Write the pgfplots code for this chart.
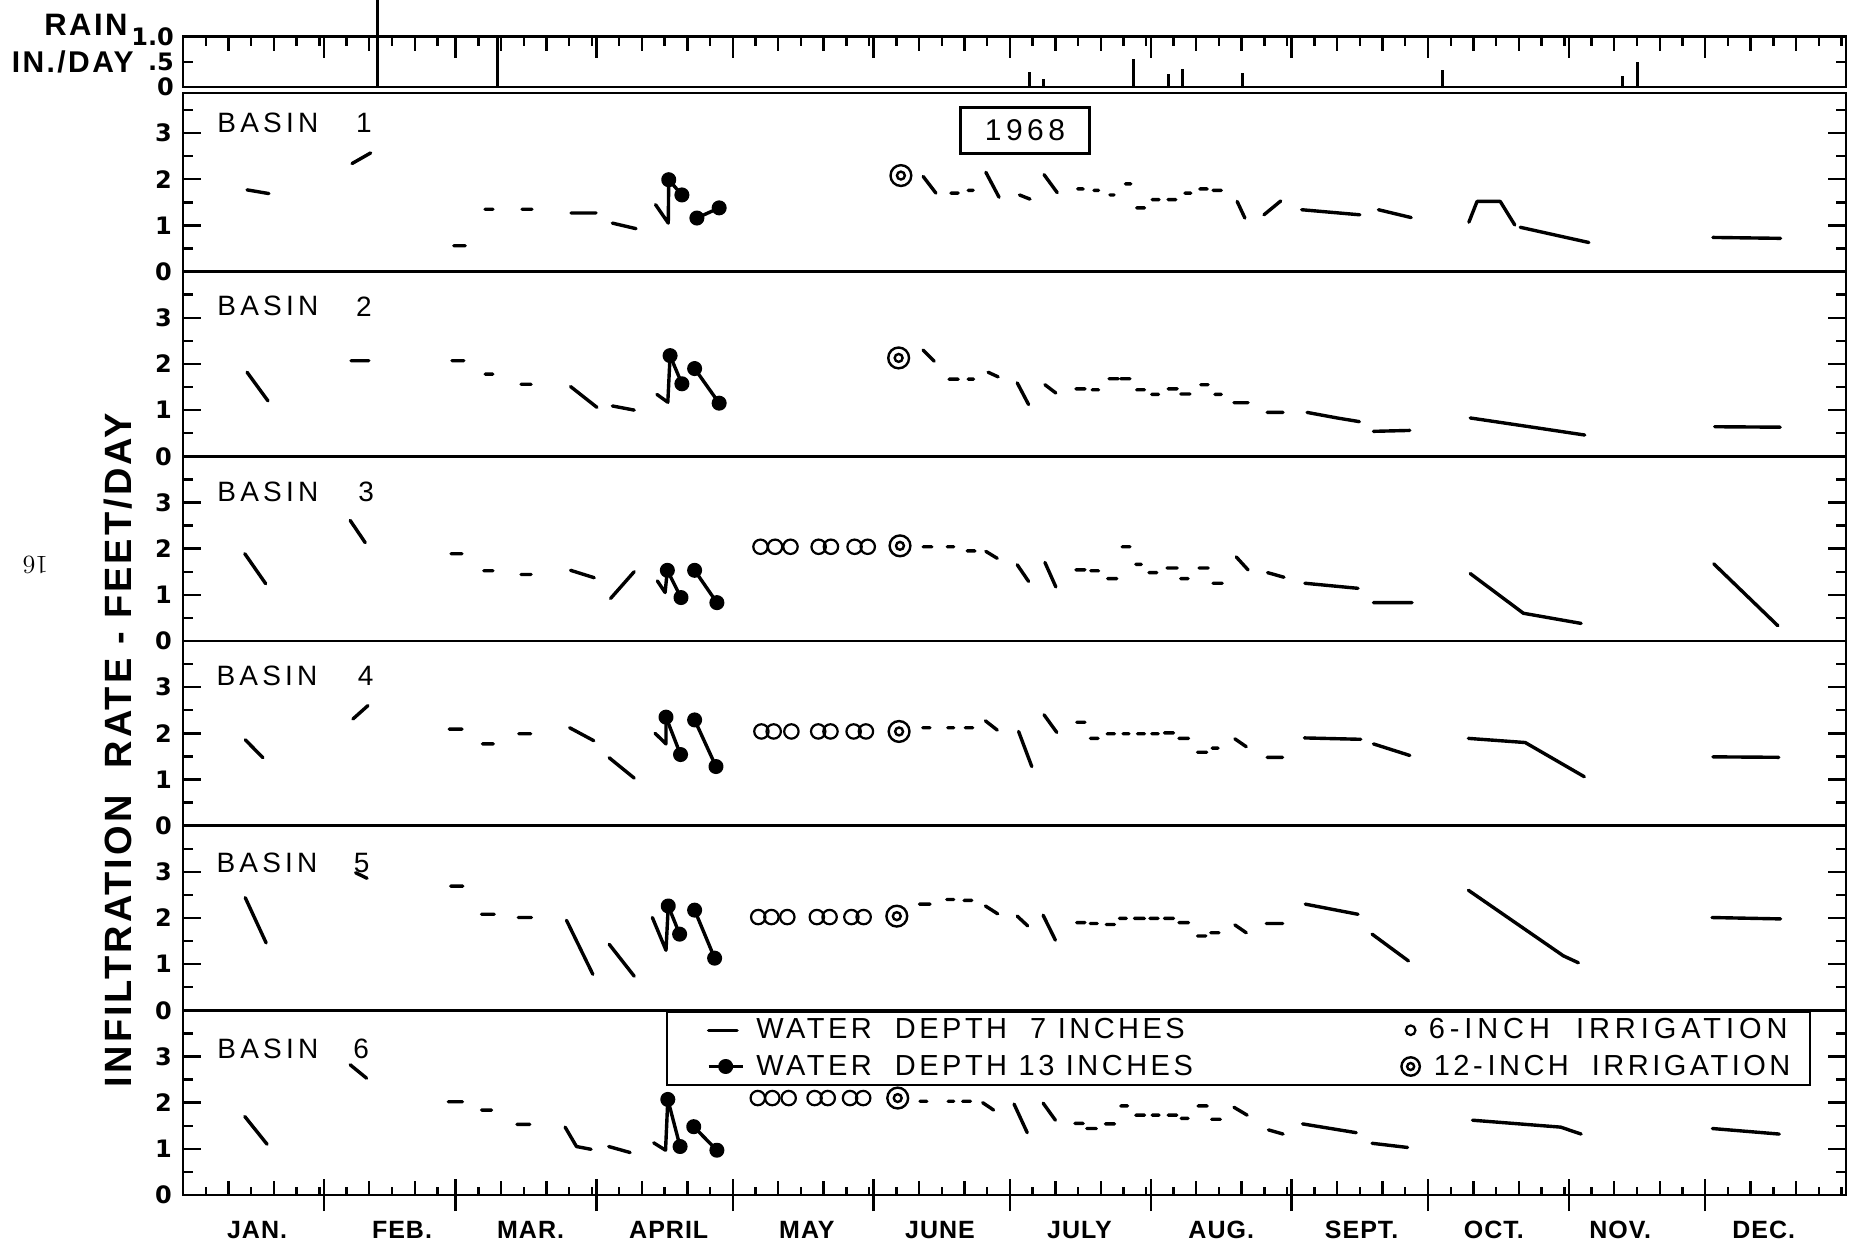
\documentclass[border=0pt]{standalone}
\usepackage{fontspec}
\usepackage{pgfplots}
\pgfplotsset{compat=1.18}
\newfontfamily\labA[LetterSpace=15]{Liberation Sans}
\newfontfamily\labL[LetterSpace=12]{Liberation Sans}
\newfontfamily\labC[LetterSpace=17]{Liberation Sans}
\newfontfamily\labB[LetterSpace=8]{Liberation Sans}
\newfontfamily\labM[LetterSpace=4]{Liberation Sans}
\newfontfamily\labD{DejaVu Sans}

\pgfdeclareplotmark{bullseye}{%
  \pgfpathcircle{\pgfpointorigin}{\pgfplotmarksize}%
  \pgfusepathqstroke
  \pgfpathcircle{\pgfpointorigin}{0.38\pgfplotmarksize}%
  \pgfusepathqstroke}

\tikzset{
  blab/.style={font=\labA\fontsize{14}{14}\selectfont, anchor=west, inner sep=0pt},
  bnum/.style={font=\labA\fontsize{14}{14}\selectfont, inner sep=0pt},
  mon/.style={font=\labM\bfseries\fontsize{12.5}{12.5}\selectfont, yshift=-17.5pt},
}
\pgfplotsset{
  panel/.style={
    scale only axis, width=831.5pt, height=92.34pt,
    xmin=0, xmax=366, ymin=0, ymax=4,
    anchor=south west, clip=false,
    axis line style={line width=1.3pt},
    tick style={black, line width=1.2pt},
    tick align=inside,
    xtick=\empty,
    ytick={0,1,2,3}, yticklabels={0,1,2,3},
    minor ytick={0.5,1.5,2.5,3.5},
    ytick pos=both, yticklabel pos=left,
    major tick length=9pt, minor tick length=5pt,
    /pgf/number format/assume math mode=true,
    yticklabel style={font=\labD\bfseries\fontsize{12}{12}\selectfont, xshift=-2pt},
    unbounded coords=jump,
  },
  tickover/.style={
    scale only axis, width=831.5pt, xmin=0, xmax=366, ymin=0, ymax=1,
    anchor=south west, axis line style={draw=none}, ytick=\empty,
    xticklabels={}, tick style={black, line width=1.2pt},
  },
  shortleg/.style={legend image code/.code={\draw[##1] (0cm,0cm) -- (0.5cm,0cm);}},
  w7/.style={black, line width=1.7pt, no markers, line cap=round, line join=round},
  wV/.style={black, line width=1.7pt, no markers, line cap=round, line join=round, forget plot},
  w13/.style={black, line width=1.7pt, mark=*, mark size=2.9pt, line join=round},
  i6/.style={black, only marks, mark=o, mark size=3.6pt, line width=1.1pt},
  i12/.style={black, only marks, mark=bullseye, mark size=5.2pt, line width=1.2pt},
}

\begin{document}
\begin{tikzpicture}
\useasboundingbox (-91.5pt,-27.5pt) rectangle (834.5pt,597.5pt);

% ---------------- RAIN ----------------
\begin{axis}[scale only axis, width=831.5pt, height=25.15pt, at={(0pt,554pt)}, anchor=south west,
  xmin=0, xmax=366, ymin=0, ymax=1, clip=false,
  axis line style={line width=1.3pt}, tick style={black, line width=1.2pt}, tick align=inside,
  xtick=\empty,
  ytick={0,0.5,1}, yticklabels={0,.5,1.0}, ytick pos=both, yticklabel pos=left,
  major tick length=5pt,
  yticklabel style={font=\labD\bfseries\fontsize{12}{12}\selectfont, xshift=-1pt}]
\addplot[ycomb, black, line width=1.5pt, no markers] coordinates {
 (42.7,1.73) (69.3,1.0) (186.3,0.29) (189.3,0.16) (209.1,0.56) (217.0,0.26)
 (220.0,0.36) (233.2,0.27) (277.2,0.34) (316.9,0.22) (320.0,0.49)};
\end{axis}
\begin{axis}[tickover, height=25.15pt, at={(0pt,554pt)}, xtick pos=right, tick align=inside,
  major tick length=10.5pt,
  xtick={31,60,91,121,152,182,213,244,274,305,335}]
\addplot[draw=none] coordinates {(0,0)};
\end{axis}
\begin{axis}[tickover, height=25.15pt, at={(0pt,554pt)}, xtick pos=right, tick align=inside,
  major tick length=7pt, minor tick length=4.5pt,
  xtick={10,20,41,51,70,80,101,111,131,141,162,172,192,202,223,233,254,264,284,294,315,325,345,355},
  minor xtick={5,15,25,30,36,46,56,65,75,85,90,96,106,116,126,136,146,151,157,167,177,187,197,207,212,218,228,238,243,249,259,269,279,289,299,304,310,320,330,340,350,360,365}]
\addplot[draw=none] coordinates {(0,0)};
\end{axis}

% ---------------- BASIN 1 ----------------
\begin{axis}[panel, at={(0pt,461.7pt)}, ymax=3.866, height=89.25pt]
\addplot[w7] coordinates {
 (14.1,1.77)(18.9,1.69) (0,nan)
 (37.2,2.34)(41.3,2.57) (0,nan)
 (59.6,0.56)(62.1,0.56) (0,nan)
 (66.5,1.35)(68.2,1.35) (0,nan)
 (74.6,1.35)(76.8,1.35) (0,nan)
 (85.4,1.27)(90.9,1.27) (0,nan)
 (94.5,1.05)(99.7,0.93) (0,nan)
 (162.9,2.06)(165.7,1.70) (0,nan)
 (169.0,1.70)(170.6,1.70) (0,nan)
 (172.8,1.76)(173.9,1.76) (0,nan)
 (176.7,2.15)(179.6,1.61) (0,nan)
 (184.1,1.66)(186.4,1.57) (0,nan)
 (189.5,2.10)(192.4,1.71) (0,nan)
 (196.9,1.79)(198.1,1.79) (0,nan)
 (200.5,1.76)(201.5,1.76) (0,nan)
 (204.0,1.66)(204.9,1.66) (0,nan)
 (207.4,1.90)(208.6,1.90) (0,nan)
 (209.9,1.38)(211.6,1.38) (0,nan)
 (213.3,1.56)(214.8,1.56) (0,nan)
 (216.8,1.56)(218.5,1.56) (0,nan)
 (220.5,1.70)(221.8,1.70) (0,nan)
 (223.8,1.79)(225.4,1.79) (0,nan)
 (226.7,1.76)(228.5,1.76) (0,nan)
 (232.0,1.52)(233.7,1.16) (0,nan)
 (237.9,1.23)(241.6,1.53) (0,nan)
 (246.2,1.34)(259.0,1.23) (0,nan)
 (263.1,1.34)(270.3,1.17) (0,nan)
 (283.0,1.07)(284.8,1.52)(289.9,1.52)(293.1,1.01) (0,nan)
 (294.3,0.96)(309.4,0.63) (0,nan)
 (336.7,0.74)(351.6,0.72)};
\addplot[wV] coordinates {(104.0,1.45)(106.8,1.05)(106.9,1.99)};
\addplot[w13] coordinates {(106.9,1.99)(109.8,1.66) (0,nan) (113.1,1.16)(118.0,1.38)};
\addplot[i12] coordinates {(158.0,2.08)};
\node[blab] at (axis cs:7.5,3.23) {BASIN};
\node[bnum] at (axis cs:39.8,3.23) {1};
\node[draw, line width=1.4pt, minimum width=64.7pt, minimum height=23pt, inner sep=0pt,
  font=\labA\fontsize{15}{15}\selectfont] at (axis cs:185.3,3.06) {1968};
\end{axis}

% ---------------- BASIN 2 ----------------
\begin{axis}[panel, at={(0pt,369.36pt)}]
\addplot[w7] coordinates {
 (14.1,1.82)(18.7,1.20) (0,nan)
 (37.0,2.07)(40.9,2.07) (0,nan)
 (59.2,2.07)(61.8,2.07) (0,nan)
 (66.5,1.78)(68.2,1.78) (0,nan)
 (74.4,1.56)(76.6,1.56) (0,nan)
 (85.3,1.51)(91.1,1.06) (0,nan)
 (94.5,1.09)(99.3,1.00) (0,nan)
 (162.9,2.30)(165.3,2.06) (0,nan)
 (168.6,1.67)(170.6,1.67) (0,nan)
 (172.8,1.67)(174.0,1.67) (0,nan)
 (177.2,1.82)(179.4,1.72) (0,nan)
 (183.6,1.59)(186.1,1.12) (0,nan)
 (189.7,1.55)(192.1,1.37) (0,nan)
 (196.5,1.46)(198.5,1.46) (0,nan)
 (200.1,1.44)(201.5,1.44) (0,nan)
 (203.8,1.68)(205.8,1.68) (0,nan)
 (206.4,1.68)(208.4,1.68) (0,nan)
 (209.9,1.44)(211.6,1.44) (0,nan)
 (213.2,1.34)(214.7,1.34) (0,nan)
 (216.8,1.46)(218.8,1.46) (0,nan)
 (219.6,1.35)(221.6,1.35) (0,nan)
 (224.0,1.55)(225.6,1.55) (0,nan)
 (227.1,1.34)(228.5,1.34) (0,nan)
 (231.3,1.16)(234.4,1.16) (0,nan)
 (238.6,0.95)(242.1,0.95) (0,nan)
 (247.4,0.95)(254.0,0.83)(258.9,0.75) (0,nan)
 (262.0,0.54)(270.0,0.56) (0,nan)
 (283.3,0.83)(297.0,0.63)(308.5,0.46) (0,nan)
 (337.1,0.64)(351.5,0.63)};
\addplot[wV] coordinates {(104.3,1.34)(106.7,1.17)(107.2,2.18)};
\addplot[w13] coordinates {(107.2,2.18)(109.8,1.57) (0,nan) (112.6,1.90)(118.0,1.15)};
\addplot[i12] coordinates {(157.5,2.13)};
\node[blab] at (axis cs:7.5,3.25) {BASIN};
\node[bnum] at (axis cs:39.8,3.25) {2};
\end{axis}

% ---------------- BASIN 3 ----------------
\begin{axis}[panel, at={(0pt,277.02pt)}]
\addplot[w7] coordinates {
 (13.6,1.89)(18.2,1.24) (0,nan)
 (36.8,2.61)(40.1,2.13) (0,nan)
 (59.0,1.89)(61.4,1.89) (0,nan)
 (66.2,1.52)(68.2,1.52) (0,nan)
 (74.4,1.44)(76.6,1.44) (0,nan)
 (85.3,1.53)(90.5,1.37) (0,nan)
 (94.1,0.92)(99.3,1.50) (0,nan)
 (162.9,2.04)(164.8,2.04) (0,nan)
 (168.2,2.04)(169.6,2.04) (0,nan)
 (172.6,1.95)(174.3,1.95) (0,nan)
 (176.7,1.94)(179.2,1.79) (0,nan)
 (183.6,1.65)(186.1,1.29) (0,nan)
 (189.7,1.70)(192.1,1.17) (0,nan)
 (196.5,1.54)(198.5,1.54) (0,nan)
 (199.8,1.52)(201.5,1.52) (0,nan)
 (203.5,1.35)(205.5,1.35) (0,nan)
 (206.7,2.04)(208.4,2.04) (0,nan)
 (209.7,1.66)(210.9,1.66) (0,nan)
 (212.6,1.48)(214.3,1.48) (0,nan)
 (216.6,1.58)(218.8,1.58) (0,nan)
 (219.6,1.35)(221.2,1.35) (0,nan)
 (223.6,1.58)(225.6,1.58) (0,nan)
 (226.7,1.25)(228.7,1.25) (0,nan)
 (231.8,1.82)(234.4,1.54) (0,nan)
 (238.7,1.48)(242.3,1.38) (0,nan)
 (246.9,1.25)(258.6,1.14) (0,nan)
 (262.0,0.83)(270.5,0.83) (0,nan)
 (283.3,1.46)(295.0,0.60)(307.7,0.38) (0,nan)
 (336.9,1.67)(351.0,0.33)};
\addplot[wV] coordinates {(104.4,1.30)(106.1,1.05)(106.6,1.53)};
\addplot[w13] coordinates {(106.6,1.53)(109.6,0.94) (0,nan) (112.6,1.53)(117.5,0.83)};
\addplot[i6] coordinates {(127.1,2.04)(130.3,2.04)(133.7,2.04)(139.9,2.04)(142.6,2.04)(147.8,2.04)(150.7,2.04)};
\addplot[i12] coordinates {(157.8,2.06)};
\node[blab] at (axis cs:7.5,3.23) {BASIN};
\node[bnum] at (axis cs:40.3,3.23) {3};
\end{axis}

% ---------------- BASIN 4 ----------------
\begin{axis}[panel, at={(0pt,184.68pt)}]
\addplot[w7] coordinates {
 (13.7,1.86)(17.6,1.47) (0,nan)
 (37.4,2.31)(40.7,2.60) (0,nan)
 (58.6,2.09)(61.4,2.09) (0,nan)
 (65.9,1.77)(68.3,1.77) (0,nan)
 (73.9,1.99)(76.5,1.99) (0,nan)
 (85.1,2.12)(90.4,1.84) (0,nan)
 (93.8,1.47)(99.3,1.03) (0,nan)
 (162.8,2.12)(164.4,2.12) (0,nan)
 (168.3,2.12)(169.6,2.12) (0,nan)
 (172.2,2.12)(173.8,2.12) (0,nan)
 (176.6,2.27)(179.2,2.07) (0,nan)
 (183.9,2.04)(186.8,1.28) (0,nan)
 (189.5,2.40)(192.3,2.02) (0,nan)
 (196.7,2.24)(198.5,2.24) (0,nan)
 (199.7,1.89)(201.4,1.89) (0,nan)
 (203.4,1.99)(205.0,1.99) (0,nan)
 (206.9,1.99)(208.2,1.99) (0,nan)
 (210.1,1.99)(211.6,1.99) (0,nan)
 (213.2,1.99)(214.6,1.99) (0,nan)
 (216.0,2.01)(218.0,2.01) (0,nan)
 (219.2,1.89)(221.3,1.89) (0,nan)
 (223.3,1.59)(225.3,1.59) (0,nan)
 (226.5,1.68)(227.8,1.68) (0,nan)
 (231.5,1.88)(234.0,1.71) (0,nan)
 (238.6,1.48)(242.0,1.48) (0,nan)
 (246.8,1.90)(259.2,1.87) (0,nan)
 (262.0,1.77)(270.0,1.52) (0,nan)
 (282.9,1.89)(295.4,1.80)(308.4,1.06) (0,nan)
 (336.7,1.49)(351.2,1.48)};
\addplot[wV] coordinates {(103.9,2.00)(106.3,1.77)(106.3,2.35)};
\addplot[w13] coordinates {(106.3,2.35)(109.5,1.54) (0,nan) (112.6,2.29)(117.3,1.28)};
\addplot[i6] coordinates {(127.3,2.04)(130.0,2.04)(133.9,2.04)(139.8,2.04)(142.5,2.04)(147.6,2.04)(150.3,2.04)};
\addplot[i12] coordinates {(157.6,2.04)};
\node[blab] at (axis cs:7.3,3.25) {BASIN};
\node[bnum] at (axis cs:40.2,3.25) {4};
\end{axis}

% ---------------- BASIN 5 ----------------
\begin{axis}[panel, at={(0pt,92.34pt)}]
\addplot[w7] coordinates {
 (13.7,2.44)(18.3,1.46) (0,nan)
 (38.0,2.98)(40.5,2.86) (0,nan)
 (58.9,2.69)(61.6,2.69) (0,nan)
 (65.7,2.08)(68.5,2.08) (0,nan)
 (73.8,2.01)(76.7,2.01) (0,nan)
 (84.4,1.95)(90.2,0.78) (0,nan)
 (93.8,1.43)(99.3,0.74) (0,nan)
 (162.1,2.30)(164.4,2.30) (0,nan)
 (168.1,2.40)(169.6,2.40) (0,nan)
 (171.9,2.38)(173.6,2.38) (0,nan)
 (176.6,2.26)(179.3,2.09) (0,nan)
 (183.6,2.04)(185.9,1.83) (0,nan)
 (189.3,2.06)(192.0,1.52) (0,nan)
 (196.7,1.90)(198.5,1.90) (0,nan)
 (199.7,1.88)(201.2,1.88) (0,nan)
 (203.2,1.86)(205.0,1.86) (0,nan)
 (206.1,1.99)(207.6,1.99) (0,nan)
 (209.4,1.99)(211.6,1.99) (0,nan)
 (212.8,1.99)(214.6,1.99) (0,nan)
 (216.0,1.99)(218.0,1.99) (0,nan)
 (219.2,1.90)(221.3,1.90) (0,nan)
 (223.3,1.61)(225.1,1.61) (0,nan)
 (226.2,1.68)(228.0,1.68) (0,nan)
 (231.5,1.85)(234.0,1.68) (0,nan)
 (238.4,1.88)(242.0,1.88) (0,nan)
 (247.0,2.30)(258.6,2.08) (0,nan)
 (261.7,1.65)(269.7,1.07) (0,nan)
 (282.9,2.60)(303.8,1.18)(307.1,1.03) (0,nan)
 (336.5,2.01)(351.6,1.98)};
\addplot[wV] coordinates {(103.3,2.01)(106.3,1.30)(106.8,2.26)};
\addplot[w13] coordinates {(106.8,2.26)(109.3,1.65) (0,nan) (112.6,2.17)(117.0,1.13)};
\addplot[i6] coordinates {(126.6,2.02)(129.5,2.02)(133.0,2.02)(139.5,2.02)(142.3,2.02)(147.1,2.02)(149.8,2.02)};
\addplot[i12] coordinates {(157.1,2.04)};
\node[blab] at (axis cs:7.3,3.2) {BASIN};
\node[bnum] at (axis cs:39.3,3.2) {5};
\end{axis}

% ---------------- BASIN 6 ----------------
\begin{axis}[panel, at={(0pt,0pt)},
  legend columns=2, transpose legend,
  legend style={at={(rel axis cs:0.2902,1)}, anchor=north west, draw=black, line width=1.3pt, fill=white,
    font=\labL\fontsize{14.5}{15}\selectfont, inner xsep=20pt, inner ysep=1.5pt, row sep=2.5pt,
    cells={anchor=west}}]
\addplot[w7, shortleg] coordinates {
 (13.6,1.70)(18.5,1.10) (0,nan)
 (36.8,2.82)(40.4,2.53) (0,nan)
 (58.4,2.02)(61.5,2.02) (0,nan)
 (65.7,1.84)(67.9,1.84) (0,nan)
 (73.5,1.53)(76.3,1.53) (0,nan)
 (84.1,1.47)(86.6,1.05)(89.8,0.99) (0,nan)
 (93.7,1.05)(98.4,0.92) (0,nan)
 (162.2,2.03)(163.7,2.03) (0,nan)
 (168.4,2.03)(169.6,2.03) (0,nan)
 (171.6,2.03)(173.3,2.03) (0,nan)
 (176.0,2.00)(178.4,1.84) (0,nan)
 (182.9,1.97)(185.8,1.35) (0,nan)
 (189.3,1.99)(192.0,1.62) (0,nan)
 (196.3,1.55)(198.1,1.55) (0,nan)
 (198.9,1.44)(201.0,1.44) (0,nan)
 (203.0,1.54)(205.0,1.54) (0,nan)
 (206.4,1.93)(207.9,1.93) (0,nan)
 (209.7,1.73)(211.6,1.73) (0,nan)
 (213.3,1.73)(214.8,1.73) (0,nan)
 (216.8,1.73)(218.7,1.73) (0,nan)
 (219.7,1.66)(221.2,1.66) (0,nan)
 (223.4,1.93)(225.4,1.93) (0,nan)
 (226.4,1.64)(228.3,1.64) (0,nan)
 (231.3,1.90)(234.2,1.73) (0,nan)
 (238.9,1.41)(242.1,1.32) (0,nan)
 (246.4,1.54)(258.2,1.35) (0,nan)
 (261.7,1.12)(269.5,1.03) (0,nan)
 (283.8,1.62)(303.2,1.47)(307.7,1.32) (0,nan)
 (336.6,1.44)(351.3,1.32)};
\addlegendentry{\hspace{4pt}\makebox[320.5pt][l]{WATER\ \ DEPTH\ \ 7 INCHES}}
\addplot[wV] coordinates {(103.6,1.13)(106.2,0.97)(106.7,2.07)};
\addplot[w13] coordinates {(106.7,2.07)(109.4,1.05) (0,nan) (112.4,1.48)(117.5,0.97)};
\addlegendentry{\hspace{4pt}\makebox[320.5pt][l]{WATER\ \ DEPTH\ 13 INCHES}}
\addplot[i6, legend image post style={mark size=2.4pt}] coordinates {(126.5,2.1)(129.7,2.1)(133.3,2.1)(139.0,2.1)(141.9,2.1)(146.8,2.1)(149.7,2.1)};
\addlegendentry{\hspace{2.5pt}\makebox[168.5pt][l]{\labC 6-\,INCH\ \ IRRIGATION}}
\addplot[i12, legend image post style={mark size=4.6pt}] coordinates {(157.3,2.1)};
\addlegendentry{\hspace{5pt}\makebox[166pt][l]{\labL 12-\,INCH\ \ IRRIGATION}}
\node[blab] at (axis cs:7.5,3.16) {BASIN};
\node[bnum] at (axis cs:39.2,3.16) {6};
\node[mon] at (axis cs:16.3,0) {JAN.};
\node[mon] at (axis cs:48.2,0) {FEB.};
\node[mon] at (axis cs:76.5,0) {MAR.};
\node[mon] at (axis cs:106.9,0) {APRIL};
\node[mon] at (axis cs:137.3,0) {MAY};
\node[mon] at (axis cs:166.6,0) {JUNE};
\node[mon] at (axis cs:197.3,0) {JULY};
\node[mon] at (axis cs:228.5,0) {AUG.};
\node[mon] at (axis cs:259.4,0) {SEPT.};
\node[mon] at (axis cs:288.5,0) {OCT.};
\node[mon] at (axis cs:316.3,0) {NOV.};
\node[mon] at (axis cs:347.9,0) {DEC.};
\end{axis}
% bottom ticks overlays
\begin{axis}[tickover, height=92.34pt, at={(0pt,0pt)}, xtick pos=left, tick align=center,
  major tick length=16pt,
  xtick={31,60,91,121,152,182,213,244,274,305,335}]
\addplot[draw=none] coordinates {(0,0)};
\end{axis}
\begin{axis}[tickover, height=92.34pt, at={(0pt,0pt)}, xtick pos=left, tick align=inside,
  major tick length=7pt, minor tick length=4pt,
  xtick={10,20,41,51,70,80,101,111,131,141,162,172,192,202,223,233,254,264,284,294,315,325,345,355},
  minor xtick={5,15,25,30,36,46,56,65,75,85,90,96,106,116,126,136,146,151,157,167,177,187,197,207,212,218,228,238,243,249,259,269,279,289,299,304,310,320,330,340,350,360,365}]
\addplot[draw=none] coordinates {(0,0)};
\end{axis}

% ---------------- outer labels ----------------
\node[anchor=east, inner sep=0pt, font=\labB\bfseries\fontsize{15.5}{15.5}\selectfont] at (-27.5pt,585pt) {RAIN};
\node[anchor=east, inner sep=0pt, font=\labB\bfseries\fontsize{15}{15}\selectfont] at (-24.5pt,566.6pt) {IN./DAY};
\node[rotate=90, inner sep=0pt, font=\labB\bfseries\fontsize{19}{19}\selectfont] at (-32.5pt,222.5pt) {INFILTRATION\ \ RATE - FEET/DAY};
\node[rotate=180, inner sep=0pt, font=\rmfamily\fontsize{13}{13}\selectfont] at (-73.8pt,315.2pt) {16};
\end{tikzpicture}
\end{document}
